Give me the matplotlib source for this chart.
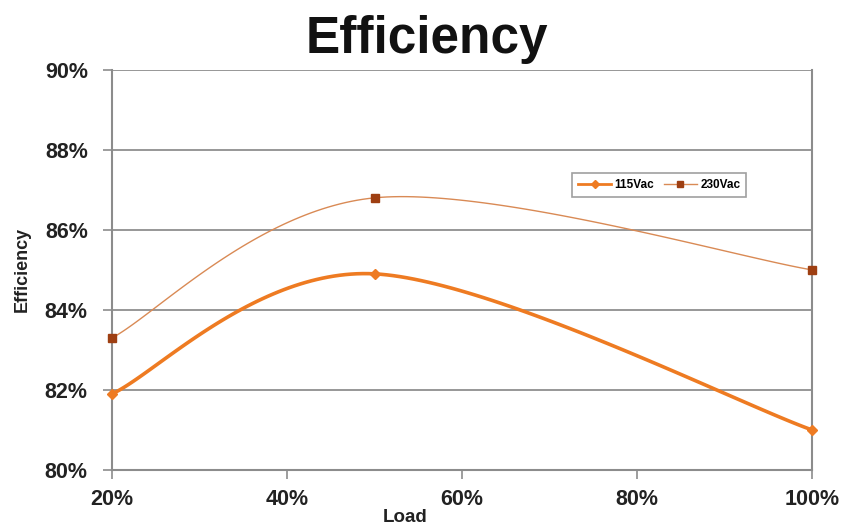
import numpy as np
import matplotlib
matplotlib.use("Agg")
import matplotlib.pyplot as plt
from matplotlib.ticker import FuncFormatter

plt.rcParams['font.family'] = ['Liberation Sans', 'DejaVu Sans']

# load points (%) and measured efficiency (%)
load = [20, 50, 100]
eff_115 = [81.9, 84.9, 81.0]
eff_230 = [83.3, 86.8, 85.0]

x_ticks = [20, 40, 60, 80, 100]
y_ticks = [80, 82, 84, 86, 88, 90]


def smooth(ax, xs, ys, n=60):
    # spreadsheet-style smoothed line: cubic Bezier between points,
    # control points from neighbours (computed in display space)
    pts = ax.transData.transform(np.column_stack([xs, ys]))
    p = np.vstack([pts[0], pts, pts[-1]])
    out = []
    t = np.linspace(0, 1, n)[:, None]
    for i in range(1, len(p) - 2):
        p0, p1 = p[i], p[i + 1]
        c1 = p0 + (p[i + 1] - p[i - 1]) / 6.0
        c2 = p1 - (p[i + 2] - p[i]) / 6.0
        seg = ((1 - t) ** 3) * p0 + 3 * ((1 - t) ** 2) * t * c1 \
            + 3 * (1 - t) * t ** 2 * c2 + t ** 3 * p1
        out.append(seg)
    out = np.vstack(out)
    d = ax.transData.inverted().transform(out)
    return d[:, 0], d[:, 1]


fig = plt.figure(figsize=(8.43, 5.25), dpi=100)
ax = fig.add_axes([0.133, 0.105, 0.830, 0.762])
ax.set_xlim(20, 100)
ax.set_ylim(80, 90)

c115 = '#EE7B22'
c230_line = '#D98A55'
c230_mark = '#9E3F12'

sx, sy = smooth(ax, load, eff_230)
ax.plot(sx, sy, color=c230_line, lw=1.0, zorder=3)
ax.plot(load, eff_230, ls='none', marker='s', ms=6, color=c230_mark,
        zorder=4, clip_on=False)

sx, sy = smooth(ax, load, eff_115)
ax.plot(sx, sy, color=c115, lw=2.6, zorder=3)
ax.plot(load, eff_115, ls='none', marker='D', ms=5, color=c115,
        zorder=4, clip_on=False)

ax.set_xticks(x_ticks)
ax.set_yticks(y_ticks)
pct = FuncFormatter(lambda v, _: f"{v:.0f}%")
ax.xaxis.set_major_formatter(pct)
ax.yaxis.set_major_formatter(pct)
ax.grid(axis='y', color='#858585', lw=1.2)
ax.set_axisbelow(True)
for s in ['left', 'bottom', 'right']:
    ax.spines[s].set_color('#8c8c8c')
    ax.spines[s].set_linewidth(1.5)
ax.spines['top'].set_visible(False)
ax.tick_params(axis='both', direction='out', length=6.5, color='#8c8c8c',
               width=1.2, labelsize=15.5)
ax.tick_params(axis='x', pad=7)
ax.tick_params(axis='y', pad=11)
for lab in ax.get_xticklabels() + ax.get_yticklabels():
    lab.set_fontweight('bold')
    lab.set_color('#222222')

ax.set_xlabel('Load', fontsize=13.5, fontweight='bold', color='#222222')
ax.xaxis.set_label_coords(0.419, -0.098)
ax.set_ylabel('Efficiency', fontsize=13, fontweight='bold', color='#222222')
ax.yaxis.set_label_coords(-0.116, 0.5)
fig.text(0.507, 0.899, 'Efficiency', ha='center', va='baseline',
         fontsize=37, fontweight='bold', color='#111111')

# legend proxies
h1, = ax.plot([], [], color=c115, lw=2, marker='D', ms=4)
h2, = ax.plot([], [], color=c230_line, lw=1, marker='s', ms=5,
              mfc=c230_mark, mec=c230_mark)
leg = ax.legend([h1, h2], ['115Vac', '230Vac'], ncol=2, loc='upper left',
                bbox_to_anchor=(0.649, 0.757), fontsize=8.5, frameon=True,
                fancybox=False, shadow=False, handlelength=2.8,
                columnspacing=0.8, handletextpad=0.3, borderpad=0.5)
leg.get_frame().set_edgecolor('#888888')
leg.get_frame().set_linewidth(1.2)
for t in leg.get_texts():
    t.set_fontweight('bold')

fig.savefig('out.png', dpi=100)
